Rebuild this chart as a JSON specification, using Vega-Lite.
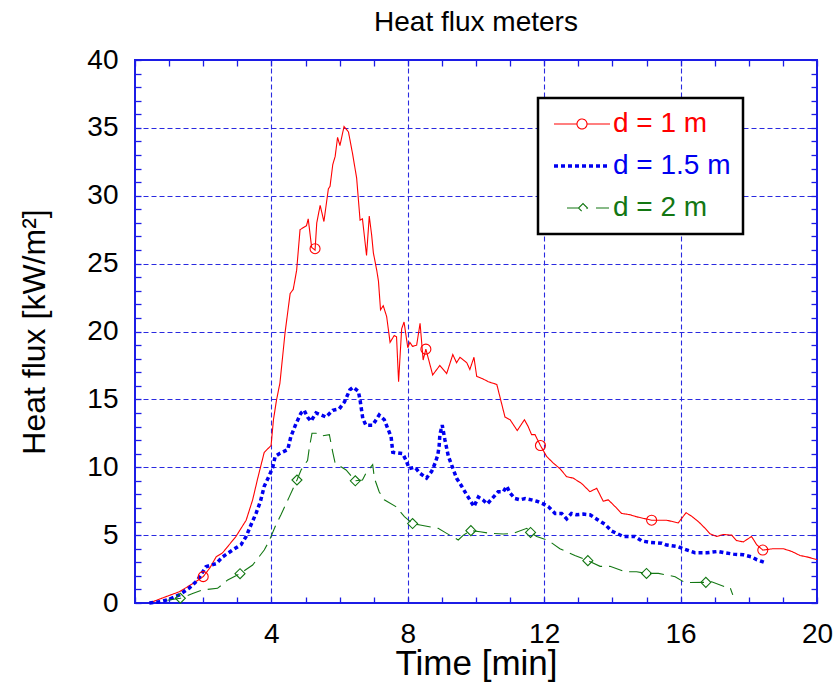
{
  "$schema": "https://vega.github.io/schema/vega-lite/v6.json",
  "width": 682,
  "height": 543,
  "autosize": {"type": "none"},
  "padding": {"left": 135, "top": 60, "right": 19, "bottom": 81},
  "background": "white",
  "title": {"text": "Heat flux meters", "fontSize": 28, "fontWeight": "normal", "color": "black", "font": "Liberation Sans", "offset": 9, "anchor": "middle"},
  "config": {
    "font": "Liberation Sans",
    "view": {"stroke": "#1c1ce6", "strokeWidth": 2},
    "axis": {"domain": false}
  },
  "datasets": {
    "curves": [
      {"t": 0.42, "v": 0, "series": "d = 1 m"},
      {"t": 0.86, "v": 0.42, "series": "d = 1 m"},
      {"t": 1.3, "v": 0.83, "series": "d = 1 m"},
      {"t": 1.74, "v": 1.5, "series": "d = 1 m"},
      {"t": 2.0, "v": 1.94, "series": "d = 1 m"},
      {"t": 2.2, "v": 2.6, "series": "d = 1 m"},
      {"t": 2.38, "v": 3.4, "series": "d = 1 m"},
      {"t": 2.57, "v": 3.7, "series": "d = 1 m"},
      {"t": 2.96, "v": 4.9, "series": "d = 1 m"},
      {"t": 3.26, "v": 6.1, "series": "d = 1 m"},
      {"t": 3.45, "v": 7.6, "series": "d = 1 m"},
      {"t": 3.6, "v": 9.2, "series": "d = 1 m"},
      {"t": 3.79, "v": 11.1, "series": "d = 1 m"},
      {"t": 3.99, "v": 11.6, "series": "d = 1 m"},
      {"t": 4.06, "v": 13.5, "series": "d = 1 m"},
      {"t": 4.15, "v": 14.95, "series": "d = 1 m"},
      {"t": 4.25, "v": 16.2, "series": "d = 1 m"},
      {"t": 4.4, "v": 19.9, "series": "d = 1 m"},
      {"t": 4.55, "v": 22.8, "series": "d = 1 m"},
      {"t": 4.64, "v": 23.1, "series": "d = 1 m"},
      {"t": 4.74, "v": 24.5, "series": "d = 1 m"},
      {"t": 4.84, "v": 27.5, "series": "d = 1 m"},
      {"t": 5.03, "v": 27.8, "series": "d = 1 m"},
      {"t": 5.08, "v": 28.3, "series": "d = 1 m"},
      {"t": 5.18, "v": 26.2, "series": "d = 1 m"},
      {"t": 5.28, "v": 26.0, "series": "d = 1 m"},
      {"t": 5.33, "v": 28.0, "series": "d = 1 m"},
      {"t": 5.43, "v": 29.3, "series": "d = 1 m"},
      {"t": 5.54, "v": 28.1, "series": "d = 1 m"},
      {"t": 5.67, "v": 30.5, "series": "d = 1 m"},
      {"t": 5.72, "v": 30.7, "series": "d = 1 m"},
      {"t": 5.8, "v": 32.3, "series": "d = 1 m"},
      {"t": 5.87, "v": 32.9, "series": "d = 1 m"},
      {"t": 5.94, "v": 34.3, "series": "d = 1 m"},
      {"t": 6.01, "v": 33.7, "series": "d = 1 m"},
      {"t": 6.13, "v": 35.1, "series": "d = 1 m"},
      {"t": 6.26, "v": 34.7, "series": "d = 1 m"},
      {"t": 6.38, "v": 33.1, "series": "d = 1 m"},
      {"t": 6.5, "v": 31.3, "series": "d = 1 m"},
      {"t": 6.6, "v": 28.2, "series": "d = 1 m"},
      {"t": 6.67, "v": 28.3, "series": "d = 1 m"},
      {"t": 6.79, "v": 25.6, "series": "d = 1 m"},
      {"t": 6.87, "v": 28.5, "series": "d = 1 m"},
      {"t": 6.94, "v": 27.1, "series": "d = 1 m"},
      {"t": 6.99, "v": 25.8, "series": "d = 1 m"},
      {"t": 7.09, "v": 24.5, "series": "d = 1 m"},
      {"t": 7.14, "v": 23.7, "series": "d = 1 m"},
      {"t": 7.2, "v": 21.6, "series": "d = 1 m"},
      {"t": 7.28, "v": 21.9, "series": "d = 1 m"},
      {"t": 7.38, "v": 21.1, "series": "d = 1 m"},
      {"t": 7.48, "v": 19.2, "series": "d = 1 m"},
      {"t": 7.6, "v": 19.7, "series": "d = 1 m"},
      {"t": 7.67, "v": 19.6, "series": "d = 1 m"},
      {"t": 7.73, "v": 16.3, "series": "d = 1 m"},
      {"t": 7.82, "v": 20.2, "series": "d = 1 m"},
      {"t": 7.89, "v": 20.7, "series": "d = 1 m"},
      {"t": 8.0, "v": 18.8, "series": "d = 1 m"},
      {"t": 8.06, "v": 19.2, "series": "d = 1 m"},
      {"t": 8.14, "v": 18.9, "series": "d = 1 m"},
      {"t": 8.26, "v": 19.0, "series": "d = 1 m"},
      {"t": 8.36, "v": 20.6, "series": "d = 1 m"},
      {"t": 8.45, "v": 17.9, "series": "d = 1 m"},
      {"t": 8.53, "v": 18.7, "series": "d = 1 m"},
      {"t": 8.73, "v": 16.8, "series": "d = 1 m"},
      {"t": 8.94, "v": 17.5, "series": "d = 1 m"},
      {"t": 9.14, "v": 16.9, "series": "d = 1 m"},
      {"t": 9.32, "v": 18.3, "series": "d = 1 m"},
      {"t": 9.43, "v": 17.7, "series": "d = 1 m"},
      {"t": 9.53, "v": 18.1, "series": "d = 1 m"},
      {"t": 9.73, "v": 17.7, "series": "d = 1 m"},
      {"t": 9.82, "v": 17.2, "series": "d = 1 m"},
      {"t": 9.94, "v": 18.1, "series": "d = 1 m"},
      {"t": 10.02, "v": 16.7, "series": "d = 1 m"},
      {"t": 10.21, "v": 16.5, "series": "d = 1 m"},
      {"t": 10.36, "v": 16.3, "series": "d = 1 m"},
      {"t": 10.61, "v": 16.1, "series": "d = 1 m"},
      {"t": 10.7, "v": 15.2, "series": "d = 1 m"},
      {"t": 10.85, "v": 13.7, "series": "d = 1 m"},
      {"t": 11.0, "v": 13.5, "series": "d = 1 m"},
      {"t": 11.21, "v": 12.7, "series": "d = 1 m"},
      {"t": 11.42, "v": 13.5, "series": "d = 1 m"},
      {"t": 11.53, "v": 13.0, "series": "d = 1 m"},
      {"t": 11.63, "v": 12.4, "series": "d = 1 m"},
      {"t": 11.73, "v": 12.4, "series": "d = 1 m"},
      {"t": 11.89, "v": 11.6, "series": "d = 1 m"},
      {"t": 12.07, "v": 10.8, "series": "d = 1 m"},
      {"t": 12.27, "v": 10.3, "series": "d = 1 m"},
      {"t": 12.46, "v": 9.9, "series": "d = 1 m"},
      {"t": 12.66, "v": 9.3, "series": "d = 1 m"},
      {"t": 12.85, "v": 9.2, "series": "d = 1 m"},
      {"t": 13.1, "v": 8.8, "series": "d = 1 m"},
      {"t": 13.34, "v": 8.2, "series": "d = 1 m"},
      {"t": 13.54, "v": 8.45, "series": "d = 1 m"},
      {"t": 13.73, "v": 7.5, "series": "d = 1 m"},
      {"t": 13.88, "v": 7.6, "series": "d = 1 m"},
      {"t": 14.08, "v": 7.1, "series": "d = 1 m"},
      {"t": 14.27, "v": 6.6, "series": "d = 1 m"},
      {"t": 14.52, "v": 6.5, "series": "d = 1 m"},
      {"t": 14.71, "v": 6.35, "series": "d = 1 m"},
      {"t": 15.15, "v": 6.1, "series": "d = 1 m"},
      {"t": 15.59, "v": 6.1, "series": "d = 1 m"},
      {"t": 15.93, "v": 5.9, "series": "d = 1 m"},
      {"t": 16.16, "v": 6.65, "series": "d = 1 m"},
      {"t": 16.32, "v": 6.4, "series": "d = 1 m"},
      {"t": 16.52, "v": 6.0, "series": "d = 1 m"},
      {"t": 16.72, "v": 5.5, "series": "d = 1 m"},
      {"t": 16.86, "v": 5.1, "series": "d = 1 m"},
      {"t": 17.06, "v": 4.9, "series": "d = 1 m"},
      {"t": 17.25, "v": 5.05, "series": "d = 1 m"},
      {"t": 17.5, "v": 5.0, "series": "d = 1 m"},
      {"t": 17.64, "v": 4.6, "series": "d = 1 m"},
      {"t": 17.84, "v": 4.5, "series": "d = 1 m"},
      {"t": 18.08, "v": 4.9, "series": "d = 1 m"},
      {"t": 18.23, "v": 4.3, "series": "d = 1 m"},
      {"t": 18.41, "v": 3.9, "series": "d = 1 m"},
      {"t": 18.72, "v": 4.0, "series": "d = 1 m"},
      {"t": 19.01, "v": 4.0, "series": "d = 1 m"},
      {"t": 19.26, "v": 3.8, "series": "d = 1 m"},
      {"t": 19.5, "v": 3.5, "series": "d = 1 m"},
      {"t": 19.7, "v": 3.4, "series": "d = 1 m"},
      {"t": 20.0, "v": 3.2, "series": "d = 1 m"},

      {"t": 0.42, "v": 0, "series": "d = 1.5 m"},
      {"t": 0.76, "v": 0.1, "series": "d = 1.5 m"},
      {"t": 1.0, "v": 0.27, "series": "d = 1.5 m"},
      {"t": 1.3, "v": 0.6, "series": "d = 1.5 m"},
      {"t": 1.59, "v": 1.1, "series": "d = 1.5 m"},
      {"t": 1.84, "v": 1.7, "series": "d = 1.5 m"},
      {"t": 2.08, "v": 2.67, "series": "d = 1.5 m"},
      {"t": 2.38, "v": 2.9, "series": "d = 1.5 m"},
      {"t": 2.57, "v": 3.4, "series": "d = 1.5 m"},
      {"t": 2.86, "v": 3.9, "series": "d = 1.5 m"},
      {"t": 3.11, "v": 4.3, "series": "d = 1.5 m"},
      {"t": 3.26, "v": 4.9, "series": "d = 1.5 m"},
      {"t": 3.4, "v": 5.75, "series": "d = 1.5 m"},
      {"t": 3.55, "v": 6.6, "series": "d = 1.5 m"},
      {"t": 3.68, "v": 7.5, "series": "d = 1.5 m"},
      {"t": 3.79, "v": 8.6, "series": "d = 1.5 m"},
      {"t": 3.94, "v": 9.4, "series": "d = 1.5 m"},
      {"t": 4.04, "v": 10.0, "series": "d = 1.5 m"},
      {"t": 4.11, "v": 10.8, "series": "d = 1.5 m"},
      {"t": 4.23, "v": 11.0, "series": "d = 1.5 m"},
      {"t": 4.48, "v": 11.3, "series": "d = 1.5 m"},
      {"t": 4.57, "v": 12.25, "series": "d = 1.5 m"},
      {"t": 4.72, "v": 13.2, "series": "d = 1.5 m"},
      {"t": 4.87, "v": 14.0, "series": "d = 1.5 m"},
      {"t": 4.96, "v": 14.2, "series": "d = 1.5 m"},
      {"t": 5.06, "v": 13.7, "series": "d = 1.5 m"},
      {"t": 5.16, "v": 13.4, "series": "d = 1.5 m"},
      {"t": 5.31, "v": 14.0, "series": "d = 1.5 m"},
      {"t": 5.6, "v": 13.7, "series": "d = 1.5 m"},
      {"t": 5.8, "v": 14.2, "series": "d = 1.5 m"},
      {"t": 5.99, "v": 14.3, "series": "d = 1.5 m"},
      {"t": 6.14, "v": 14.8, "series": "d = 1.5 m"},
      {"t": 6.3, "v": 15.7, "series": "d = 1.5 m"},
      {"t": 6.4, "v": 15.9, "series": "d = 1.5 m"},
      {"t": 6.55, "v": 15.6, "series": "d = 1.5 m"},
      {"t": 6.6, "v": 14.95, "series": "d = 1.5 m"},
      {"t": 6.68, "v": 13.6, "series": "d = 1.5 m"},
      {"t": 6.77, "v": 13.1, "series": "d = 1.5 m"},
      {"t": 6.97, "v": 13.1, "series": "d = 1.5 m"},
      {"t": 7.16, "v": 13.85, "series": "d = 1.5 m"},
      {"t": 7.31, "v": 13.5, "series": "d = 1.5 m"},
      {"t": 7.51, "v": 12.25, "series": "d = 1.5 m"},
      {"t": 7.56, "v": 11.1, "series": "d = 1.5 m"},
      {"t": 7.85, "v": 11.0, "series": "d = 1.5 m"},
      {"t": 7.95, "v": 10.5, "series": "d = 1.5 m"},
      {"t": 8.04, "v": 9.9, "series": "d = 1.5 m"},
      {"t": 8.21, "v": 10.0, "series": "d = 1.5 m"},
      {"t": 8.36, "v": 9.55, "series": "d = 1.5 m"},
      {"t": 8.55, "v": 9.2, "series": "d = 1.5 m"},
      {"t": 8.7, "v": 9.7, "series": "d = 1.5 m"},
      {"t": 8.8, "v": 10.3, "series": "d = 1.5 m"},
      {"t": 8.88, "v": 10.9, "series": "d = 1.5 m"},
      {"t": 8.92, "v": 11.6, "series": "d = 1.5 m"},
      {"t": 8.94, "v": 12.4, "series": "d = 1.5 m"},
      {"t": 9.01, "v": 13.1, "series": "d = 1.5 m"},
      {"t": 9.09, "v": 12.0, "series": "d = 1.5 m"},
      {"t": 9.19, "v": 10.8, "series": "d = 1.5 m"},
      {"t": 9.34, "v": 9.8, "series": "d = 1.5 m"},
      {"t": 9.43, "v": 9.2, "series": "d = 1.5 m"},
      {"t": 9.58, "v": 8.6, "series": "d = 1.5 m"},
      {"t": 9.73, "v": 7.96, "series": "d = 1.5 m"},
      {"t": 9.82, "v": 7.6, "series": "d = 1.5 m"},
      {"t": 9.94, "v": 7.1, "series": "d = 1.5 m"},
      {"t": 10.07, "v": 7.8, "series": "d = 1.5 m"},
      {"t": 10.2, "v": 7.6, "series": "d = 1.5 m"},
      {"t": 10.33, "v": 7.3, "series": "d = 1.5 m"},
      {"t": 10.51, "v": 7.8, "series": "d = 1.5 m"},
      {"t": 10.65, "v": 8.2, "series": "d = 1.5 m"},
      {"t": 10.8, "v": 8.2, "series": "d = 1.5 m"},
      {"t": 10.9, "v": 8.6, "series": "d = 1.5 m"},
      {"t": 11.0, "v": 8.1, "series": "d = 1.5 m"},
      {"t": 11.14, "v": 7.7, "series": "d = 1.5 m"},
      {"t": 11.29, "v": 7.6, "series": "d = 1.5 m"},
      {"t": 11.44, "v": 7.7, "series": "d = 1.5 m"},
      {"t": 11.63, "v": 7.6, "series": "d = 1.5 m"},
      {"t": 11.78, "v": 7.5, "series": "d = 1.5 m"},
      {"t": 11.97, "v": 7.3, "series": "d = 1.5 m"},
      {"t": 12.12, "v": 7.1, "series": "d = 1.5 m"},
      {"t": 12.32, "v": 6.6, "series": "d = 1.5 m"},
      {"t": 12.51, "v": 6.6, "series": "d = 1.5 m"},
      {"t": 12.66, "v": 6.2, "series": "d = 1.5 m"},
      {"t": 12.8, "v": 6.6, "series": "d = 1.5 m"},
      {"t": 12.95, "v": 6.5, "series": "d = 1.5 m"},
      {"t": 13.15, "v": 6.55, "series": "d = 1.5 m"},
      {"t": 13.34, "v": 6.5, "series": "d = 1.5 m"},
      {"t": 13.59, "v": 6.1, "series": "d = 1.5 m"},
      {"t": 13.78, "v": 5.8, "series": "d = 1.5 m"},
      {"t": 13.98, "v": 5.3, "series": "d = 1.5 m"},
      {"t": 14.32, "v": 4.9, "series": "d = 1.5 m"},
      {"t": 14.66, "v": 4.9, "series": "d = 1.5 m"},
      {"t": 14.86, "v": 4.57, "series": "d = 1.5 m"},
      {"t": 15.1, "v": 4.47, "series": "d = 1.5 m"},
      {"t": 15.45, "v": 4.4, "series": "d = 1.5 m"},
      {"t": 15.59, "v": 4.27, "series": "d = 1.5 m"},
      {"t": 15.93, "v": 4.15, "series": "d = 1.5 m"},
      {"t": 16.13, "v": 3.95, "series": "d = 1.5 m"},
      {"t": 16.42, "v": 3.7, "series": "d = 1.5 m"},
      {"t": 16.77, "v": 3.7, "series": "d = 1.5 m"},
      {"t": 17.1, "v": 3.8, "series": "d = 1.5 m"},
      {"t": 17.3, "v": 3.7, "series": "d = 1.5 m"},
      {"t": 17.55, "v": 3.6, "series": "d = 1.5 m"},
      {"t": 17.84, "v": 3.55, "series": "d = 1.5 m"},
      {"t": 18.08, "v": 3.4, "series": "d = 1.5 m"},
      {"t": 18.23, "v": 3.2, "series": "d = 1.5 m"},
      {"t": 18.45, "v": 3.0, "series": "d = 1.5 m"},

      {"t": 0.95, "v": 0.2, "series": "d = 2 m"},
      {"t": 1.33, "v": 0.35, "series": "d = 2 m"},
      {"t": 1.69, "v": 0.7, "series": "d = 2 m"},
      {"t": 1.98, "v": 0.96, "series": "d = 2 m"},
      {"t": 2.42, "v": 1.08, "series": "d = 2 m"},
      {"t": 2.72, "v": 1.7, "series": "d = 2 m"},
      {"t": 3.08, "v": 2.16, "series": "d = 2 m"},
      {"t": 3.45, "v": 2.8, "series": "d = 2 m"},
      {"t": 3.79, "v": 3.9, "series": "d = 2 m"},
      {"t": 3.94, "v": 4.6, "series": "d = 2 m"},
      {"t": 4.13, "v": 5.75, "series": "d = 2 m"},
      {"t": 4.28, "v": 6.5, "series": "d = 2 m"},
      {"t": 4.52, "v": 7.8, "series": "d = 2 m"},
      {"t": 4.75, "v": 9.06, "series": "d = 2 m"},
      {"t": 4.87, "v": 9.8, "series": "d = 2 m"},
      {"t": 5.06, "v": 10.5, "series": "d = 2 m"},
      {"t": 5.11, "v": 11.4, "series": "d = 2 m"},
      {"t": 5.19, "v": 12.5, "series": "d = 2 m"},
      {"t": 5.31, "v": 12.5, "series": "d = 2 m"},
      {"t": 5.45, "v": 12.3, "series": "d = 2 m"},
      {"t": 5.7, "v": 12.4, "series": "d = 2 m"},
      {"t": 5.8, "v": 11.1, "series": "d = 2 m"},
      {"t": 5.87, "v": 10.3, "series": "d = 2 m"},
      {"t": 6.19, "v": 9.8, "series": "d = 2 m"},
      {"t": 6.46, "v": 9.0, "series": "d = 2 m"},
      {"t": 6.67, "v": 9.06, "series": "d = 2 m"},
      {"t": 6.77, "v": 9.55, "series": "d = 2 m"},
      {"t": 6.97, "v": 10.2, "series": "d = 2 m"},
      {"t": 7.02, "v": 9.2, "series": "d = 2 m"},
      {"t": 7.16, "v": 8.2, "series": "d = 2 m"},
      {"t": 7.31, "v": 7.6, "series": "d = 2 m"},
      {"t": 7.65, "v": 7.1, "series": "d = 2 m"},
      {"t": 7.9, "v": 6.36, "series": "d = 2 m"},
      {"t": 8.14, "v": 5.85, "series": "d = 2 m"},
      {"t": 8.36, "v": 5.75, "series": "d = 2 m"},
      {"t": 8.89, "v": 5.5, "series": "d = 2 m"},
      {"t": 9.14, "v": 5.13, "series": "d = 2 m"},
      {"t": 9.48, "v": 4.64, "series": "d = 2 m"},
      {"t": 9.63, "v": 5.0, "series": "d = 2 m"},
      {"t": 9.85, "v": 5.33, "series": "d = 2 m"},
      {"t": 10.12, "v": 5.25, "series": "d = 2 m"},
      {"t": 10.41, "v": 5.13, "series": "d = 2 m"},
      {"t": 10.8, "v": 5.08, "series": "d = 2 m"},
      {"t": 11.09, "v": 5.13, "series": "d = 2 m"},
      {"t": 11.49, "v": 5.5, "series": "d = 2 m"},
      {"t": 11.6, "v": 5.2, "series": "d = 2 m"},
      {"t": 11.78, "v": 4.9, "series": "d = 2 m"},
      {"t": 12.12, "v": 4.6, "series": "d = 2 m"},
      {"t": 12.46, "v": 4.0, "series": "d = 2 m"},
      {"t": 12.9, "v": 3.5, "series": "d = 2 m"},
      {"t": 13.28, "v": 3.12, "series": "d = 2 m"},
      {"t": 13.64, "v": 2.7, "series": "d = 2 m"},
      {"t": 13.93, "v": 2.7, "series": "d = 2 m"},
      {"t": 14.37, "v": 2.3, "series": "d = 2 m"},
      {"t": 14.71, "v": 2.3, "series": "d = 2 m"},
      {"t": 15.0, "v": 2.18, "series": "d = 2 m"},
      {"t": 15.35, "v": 2.18, "series": "d = 2 m"},
      {"t": 15.84, "v": 1.94, "series": "d = 2 m"},
      {"t": 16.13, "v": 1.5, "series": "d = 2 m"},
      {"t": 16.74, "v": 1.52, "series": "d = 2 m"},
      {"t": 16.91, "v": 1.57, "series": "d = 2 m"},
      {"t": 17.3, "v": 1.2, "series": "d = 2 m"},
      {"t": 17.45, "v": 1.15, "series": "d = 2 m"},
      {"t": 17.53, "v": 0.6, "series": "d = 2 m"}
    ],
    "markers": [
      {"t": 2.0, "v": 1.94, "series": "d = 1 m"},
      {"t": 5.28, "v": 26.1, "series": "d = 1 m"},
      {"t": 8.53, "v": 18.7, "series": "d = 1 m"},
      {"t": 11.89, "v": 11.6, "series": "d = 1 m"},
      {"t": 15.15, "v": 6.1, "series": "d = 1 m"},
      {"t": 18.41, "v": 3.9, "series": "d = 1 m"},
      {"t": 1.33, "v": 0.35, "series": "d = 2 m"},
      {"t": 3.08, "v": 2.16, "series": "d = 2 m"},
      {"t": 4.75, "v": 9.06, "series": "d = 2 m"},
      {"t": 6.46, "v": 9.0, "series": "d = 2 m"},
      {"t": 8.14, "v": 5.85, "series": "d = 2 m"},
      {"t": 9.85, "v": 5.33, "series": "d = 2 m"},
      {"t": 11.6, "v": 5.2, "series": "d = 2 m"},
      {"t": 13.28, "v": 3.12, "series": "d = 2 m"},
      {"t": 15.0, "v": 2.18, "series": "d = 2 m"},
      {"t": 16.74, "v": 1.52, "series": "d = 2 m"}
    ]
  },
  "resolve": {"axis": {"x": "independent", "y": "independent"}},
  "layer": [
    {
      "data": {"name": "curves"},
      "mark": {"type": "line", "strokeCap": "butt", "strokeJoin": "miter"},
      "encoding": {
        "x": {
          "field": "t", "type": "quantitative",
          "scale": {"domain": [0, 20], "nice": false, "zero": false},
          "axis": {
            "orient": "bottom",
            "values": [0,1,2,3,4,5,6,7,8,9,10,11,12,13,14,15,16,17,18,19,20],
            "tickSize": -6, "tickColor": "#1c1ce6", "tickWidth": 1.3,
            "grid": true, "gridColor": "#2a2ae0", "gridDash": [5, 3], "gridWidth": 1.1,
            "gridOpacity": {"condition": {"test": "datum.value % 4 === 0 && datum.value > 0 && datum.value < 20", "value": 1}, "value": 0},
            "labelExpr": "datum.value % 4 === 0 && datum.value > 0 ? datum.label : ''",
            "labelOverlap": false, "labelFlush": false, "labelBound": false,
            "labelFontSize": 28, "labelColor": "black", "labelPadding": 23,
            "title": "Time [min]", "titleFontSize": 35, "titleFontWeight": "normal", "titleColor": "black", "titlePadding": -2
          }
        },
        "y": {
          "field": "v", "type": "quantitative",
          "scale": {"domain": [0, 40], "nice": false},
          "axis": {
            "orient": "left",
            "values": [0,1,2,3,4,5,6,7,8,9,10,11,12,13,14,15,16,17,18,19,20,21,22,23,24,25,26,27,28,29,30,31,32,33,34,35,36,37,38,39,40],
            "tickSize": -6, "tickColor": "#1c1ce6", "tickWidth": 1.3,
            "grid": true, "gridColor": "#2a2ae0", "gridDash": [5, 3], "gridWidth": 1.1,
            "gridOpacity": {"condition": {"test": "datum.value % 5 === 0 && datum.value > 0 && datum.value < 40", "value": 1}, "value": 0},
            "labelExpr": "datum.value % 5 === 0 ? datum.label : ''",
            "labelOverlap": false, "labelFlush": false, "labelBound": false,
            "labelFontSize": 28, "labelColor": "black", "labelPadding": 23,
            "title": "Heat flux [kW/m²]", "titleFontSize": 32, "titleFontWeight": "normal", "titleColor": "black", "titlePadding": 35
          }
        },
        "color": {
          "field": "series", "type": "nominal",
          "scale": {"domain": ["d = 1 m", "d = 1.5 m", "d = 2 m"], "range": ["#ff0000", "#0000f0", "#137713"]},
          "legend": {
            "orient": "none", "legendX": 403, "legendY": 38,
            "title": null,
            "strokeColor": "black", "fillColor": "white", "padding": 12,
            "symbolSize": 400, "symbolType": "stroke",
            "labelFontSize": 28, "labelOffset": 35, "rowPadding": 14,
            "labelLimit": 300,
            "encoding": {
              "legend": {"strokeWidth": {"value": 2.5}},
              "symbols": {
                "shape": {"condition": [
                  {"test": "datum.value === 'd = 1 m'", "value": "M-1,0H1.3M2.3,0H4.6M1.3,0A0.5,0.5,0,1,1,2.3,0A0.5,0.5,0,1,1,1.3,0"},
                  {"test": "datum.value === 'd = 2 m'", "value": "M0.3,0H1.45M1.45,0L1.9,-0.45L2.35,0L1.9,0.45ZM3.2,0H4.5"}
                ], "value": "M-1,0H4.6"},
                "stroke": {"condition": [
                  {"test": "datum.value === 'd = 1 m'", "value": "#ff0000"},
                  {"test": "datum.value === 'd = 2 m'", "value": "#137713"}
                ], "value": "#0000f0"},
                "strokeWidth": {"condition": {"test": "datum.value === 'd = 1.5 m'", "value": 3.5}, "value": 1.2},
                "strokeDash": {"condition": {"test": "datum.value === 'd = 1.5 m'", "value": [4, 3]}, "value": [1, 0]},
                "fill": {"value": "transparent"},
                "opacity": {"value": 1}
              },
              "labels": {
                "fill": {"condition": [
                  {"test": "datum.value === 'd = 1 m'", "value": "#ff0000"},
                  {"test": "datum.value === 'd = 2 m'", "value": "#137713"}
                ], "value": "#0000f0"}
              }
            }
          }
        },
        "strokeDash": {
          "field": "series", "type": "nominal",
          "scale": {"domain": ["d = 1 m", "d = 1.5 m", "d = 2 m"], "range": [[1, 0], [4, 3], [14, 7]]},
          "legend": null
        },
        "strokeWidth": {
          "field": "series", "type": "nominal",
          "scale": {"type": "ordinal", "domain": ["d = 1 m", "d = 1.5 m", "d = 2 m"], "range": [1.1, 3.5, 1.1]},
          "legend": null
        }
      }
    },
    {
      "data": {"name": "markers"},
      "mark": {"type": "point", "filled": false, "size": 100, "strokeWidth": 1.1, "opacity": 1},
      "encoding": {
        "x": {
          "field": "t", "type": "quantitative",
          "axis": {
            "orient": "top",
            "values": [0,1,2,3,4,5,6,7,8,9,10,11,12,13,14,15,16,17,18,19,20],
            "tickSize": -6, "tickColor": "#1c1ce6", "tickWidth": 1.3,
            "grid": false, "labels": false, "title": null
          }
        },
        "y": {
          "field": "v", "type": "quantitative",
          "axis": {
            "orient": "right",
            "values": [0,1,2,3,4,5,6,7,8,9,10,11,12,13,14,15,16,17,18,19,20,21,22,23,24,25,26,27,28,29,30,31,32,33,34,35,36,37,38,39,40],
            "tickSize": -6, "tickColor": "#1c1ce6", "tickWidth": 1.3,
            "grid": false, "labels": false, "title": null
          }
        },
        "color": {"field": "series", "type": "nominal", "legend": null},
        "shape": {
          "field": "series", "type": "nominal",
          "scale": {"domain": ["d = 1 m", "d = 2 m"], "range": ["circle", "diamond"]},
          "legend": null
        }
      }
    }
  ]
}
